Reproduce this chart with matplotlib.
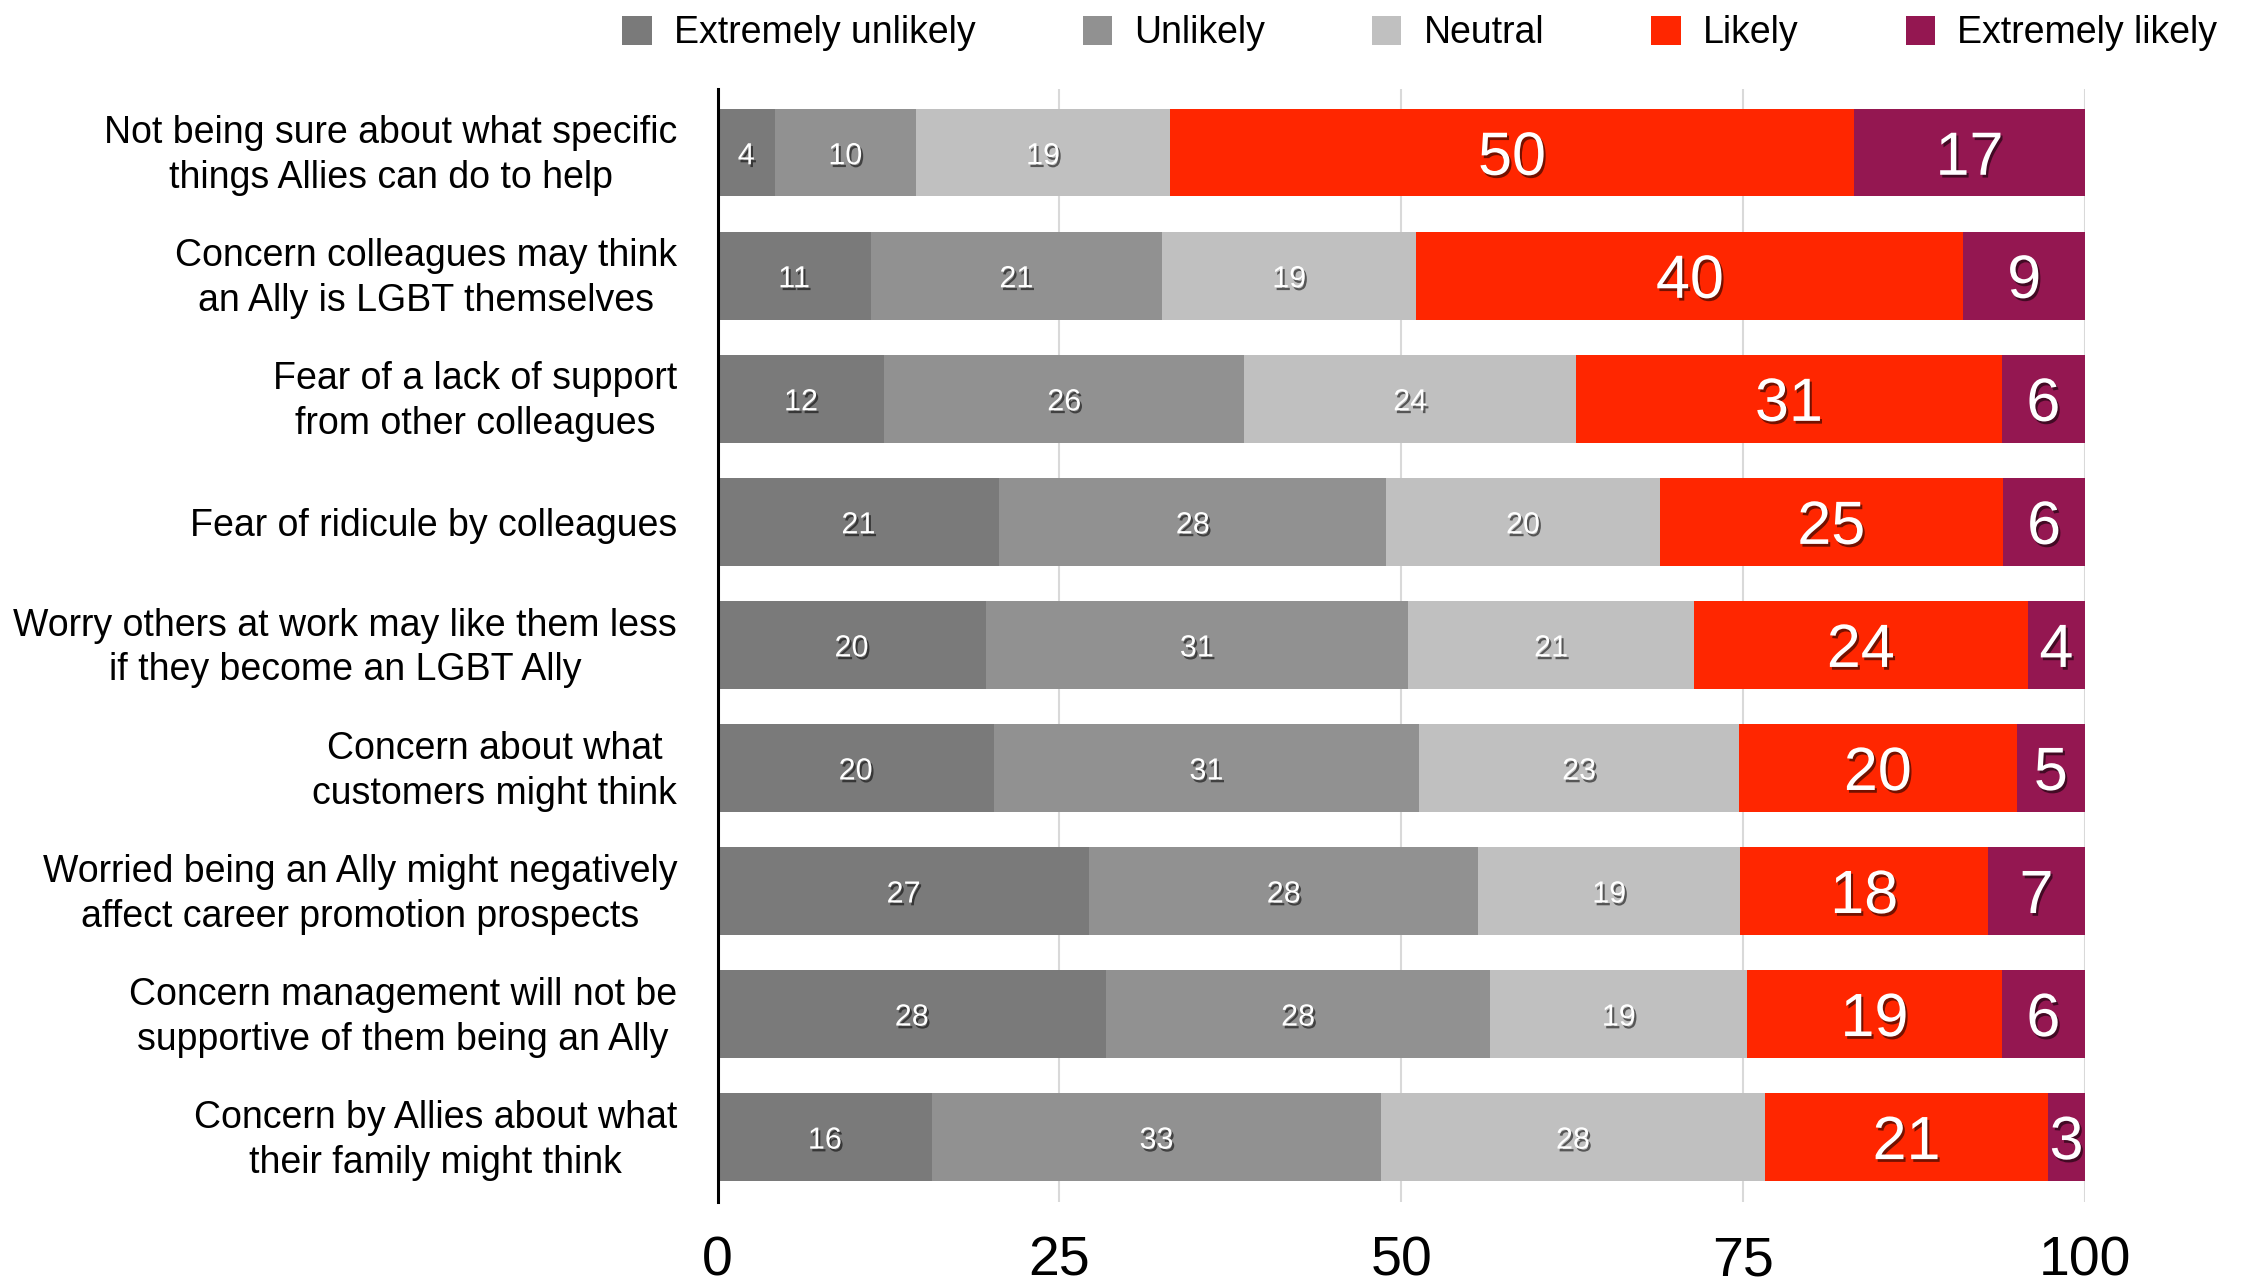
import matplotlib
matplotlib.use('Agg')
import matplotlib.pyplot as plt
import matplotlib.patheffects as pe
from matplotlib.patches import Patch
import numpy as np

# ---------------- data ----------------
categories = [
    "Not being sure about what specific\nthings Allies can do to help",
    "Concern colleagues may think\nan Ally is LGBT themselves",
    "Fear of a lack of support\nfrom other colleagues",
    "Fear of ridicule by colleagues",
    "Worry others at work may like them less\nif they become an LGBT Ally",
    "Concern about what\ncustomers might think",
    "Worried being an Ally might negatively\naffect career promotion prospects",
    "Concern management will not be\nsupportive of them being an Ally",
    "Concern by Allies about what\ntheir family might think",
]
series_names = ["Extremely unlikely", "Unlikely", "Neutral", "Likely", "Extremely likely"]
extremely_unlikely = [4.2, 11.2, 12.2, 20.6, 19.6, 20.2, 27.2, 28.4, 15.7]
unlikely = [10.3, 21.3, 26.3, 28.3, 30.9, 31.1, 28.4, 28.1, 32.8]
neutral = [18.6, 18.6, 24.3, 20.0, 20.9, 23.4, 19.2, 18.8, 28.1]
likely = [50.0, 40.0, 31.1, 25.1, 24.4, 20.3, 18.1, 18.6, 20.7]
extremely_likely = [16.9, 8.9, 6.1, 6.0, 4.2, 5.0, 7.1, 6.1, 2.7]
x_ticks = [0, 25, 50, 75, 100]

# ---------------- style ----------------
colors = ["#7a7a7a", "#919191", "#c0c0c0", "#ff2600", "#941751"]
label_sizes = [22, 22, 22, 44, 44]

plt.rcParams['font.family'] = ['Liberation Sans', 'DejaVu Sans']

fig = plt.figure(figsize=(22.5, 12.87), dpi=100)
ax = fig.add_axes([0.3189, 0.0658, 0.9267 - 0.3189, 0.931 - 0.0658])

all_series = [extremely_unlikely, unlikely, neutral, likely, extremely_likely]
ypos = np.arange(len(categories))
left = np.zeros(len(categories))
shadow = [pe.withSimplePatchShadow(offset=(1.5, -2), shadow_rgbFace='black', alpha=0.55)]

for vals, color, name, fs in zip(all_series, colors, series_names, label_sizes):
    vals = np.array(vals, dtype=float)
    ax.barh(ypos, vals, left=left, height=0.71, color=color, label=name,
            zorder=2, linewidth=0)
    for yi, l, v in zip(ypos, left, vals):
        ax.text(l + v / 2, yi, f"{v:.0f}", ha='center', va='center_baseline',
                fontsize=fs, color='white', zorder=3, path_effects=shadow)
    left = left + vals

ax.set_xlim(0, 100)
ax.set_ylim(len(categories) - 1 + 0.53, -0.52)
ax.set_xticks(x_ticks)
ax.set_xticklabels([str(t) for t in x_ticks], fontsize=40)
ax.set_yticks(ypos)
ax.set_yticklabels([])
for yi, cat in zip(ypos, categories):
    dy = -2.2 if '\n' in cat else -3.0
    ax.annotate(cat, xy=(0, yi), xycoords=('axes fraction', 'data'),
                xytext=(-29, dy), textcoords='offset points',
                ha='right', va='center', multialignment='center',
                linespacing=1.32, fontsize=27, annotation_clip=False)
ax.xaxis.grid(True, color='#d9d9d9', linewidth=1.5, zorder=0)
ax.set_axisbelow(True)
for s in ['top', 'right', 'bottom']:
    ax.spines[s].set_visible(False)
ax.spines['left'].set_color('black')
ax.spines['left'].set_linewidth(2.2)
ax.spines['left'].set_zorder(4)
ax.tick_params(axis='x', length=0, pad=24)
ax.tick_params(axis='y', length=0)

handles = [Patch(facecolor=c, edgecolor='none') for c in colors]
fig.legend(handles, series_names, loc='center right', bbox_to_anchor=(0.9855, 0.974),
           bbox_transform=fig.transFigure, ncol=5, frameon=False, fontsize=27,
           handlelength=0.78, handleheight=0.78, handletextpad=0.6,
           columnspacing=2.85, borderpad=0, borderaxespad=0)

fig.savefig('out.png', dpi=100)
